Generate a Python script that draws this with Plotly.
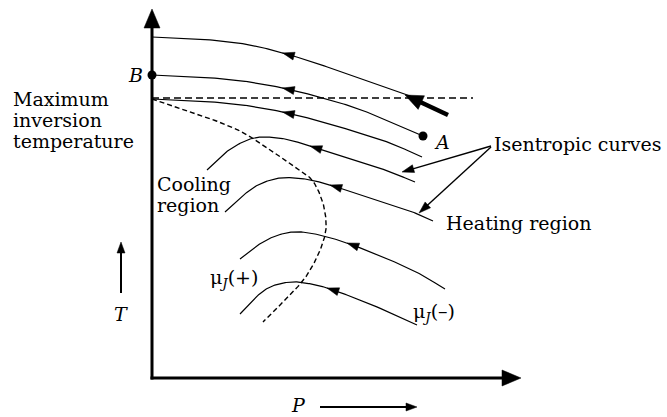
import numpy as np
import plotly.graph_objects as go

W, H = 667, 417

# ---- frame: P to the right, T upward (drawing units, y grows downward) ----
axis_x0, axis_y0 = 152, 378          # origin of the P-T frame
t_axis_tip = 9                       # top of T axis arrow
p_axis_tip = 521                     # right end of P axis arrow

# ---- isentropic curves (P, T) ----
curve_top_x = [152, 200, 250, 300, 350, 413]
curve_top_y = [37, 39, 45, 58, 75, 97]

curve_B_x = [152, 200, 250, 300, 350, 381, 423]
curve_B_y = [75, 77, 82, 92, 106, 118, 136]

curve_3_x = [152, 200, 250, 300, 350, 390, 422]
curve_3_y = [99, 101, 106, 116, 130, 143, 157]

curve_4_x = [207, 225, 245, 262, 285, 310, 350, 385, 415]
curve_4_y = [170, 153, 141, 137, 139, 146, 159, 170, 182]

curve_5_x = [225, 240, 258, 280, 305, 330, 370, 405, 433]
curve_5_y = [212, 198, 185, 178, 179, 185, 198, 209, 221]

curve_6_x = [240, 255, 273, 293, 315, 347, 390, 420, 445]
curve_6_y = [259, 247, 237, 232, 234, 243, 260, 274, 289]

curve_7_x = [240, 255, 270, 290, 305, 327, 370, 417]
curve_7_y = [314, 298, 287, 282, 283, 288, 304, 325]

curves = [
    (curve_top_x, curve_top_y, 283),
    (curve_B_x, curve_B_y, 283),
    (curve_3_x, curve_3_y, 283),
    (curve_4_x, curve_4_y, 310),
    (curve_5_x, curve_5_y, 330),
    (curve_6_x, curve_6_y, 347),
    (curve_7_x, curve_7_y, 327),
]

# ---- inversion curve (dashed) ----
inversion_x = [152, 200, 240, 270, 295, 312, 322, 326, 325, 318, 305, 285, 263]
inversion_y = [99, 115, 131, 150, 167, 180, 200, 220, 235, 255, 278, 300, 322]

# ---- maximum inversion temperature line ----
max_inv_y = 98
max_inv_x_end = 473

# ---- state points ----
point_A = (423, 136)
point_B = (152, 75)


def smooth(xs, ys, n=20):
    """Catmull-Rom interpolation through the given points."""
    p = np.column_stack([xs, ys]).astype(float)
    p = np.vstack([2 * p[0] - p[1], p, 2 * p[-1] - p[-2]])
    out = []
    for i in range(1, len(p) - 2):
        p0, p1, p2, p3 = p[i - 1], p[i], p[i + 1], p[i + 2]
        for t in np.linspace(0, 1, n, endpoint=False):
            t2, t3 = t * t, t * t * t
            out.append(0.5 * ((2 * p1) + (-p0 + p2) * t
                              + (2 * p0 - 5 * p1 + 4 * p2 - p3) * t2
                              + (-p0 + 3 * p1 - 3 * p2 + p3) * t3))
    out.append(p[-2])
    out = np.array(out)
    return out[:, 0], out[:, 1]


def head(tip, direction, length, half):
    d = np.asarray(direction, float)
    d = d / np.hypot(*d)
    nrm = np.array([-d[1], d[0]])
    tip = np.asarray(tip, float)
    base = tip - length * d
    pts = [tip, base + half * nrm, base - half * nrm, tip]
    return [q[0] for q in pts], [q[1] for q in pts]


fig = go.Figure()


def add_line(xs, ys, width=1.2, dash=None):
    fig.add_trace(go.Scatter(x=xs, y=ys, mode="lines",
                             line=dict(color="black", width=width, dash=dash),
                             hoverinfo="skip", showlegend=False))


def add_head(tip, direction, length, half):
    hx, hy = head(tip, direction, length, half)
    fig.add_trace(go.Scatter(x=hx, y=hy, mode="lines", fill="toself",
                             fillcolor="black", line=dict(color="black", width=0.5),
                             hoverinfo="skip", showlegend=False))


def add_arrow(start, end, width, length, half):
    d = np.subtract(end, start).astype(float)
    u = d / np.hypot(*d)
    stop = np.asarray(end, float) - u * length * 0.8
    add_line([start[0], stop[0]], [start[1], stop[1]], width=width)
    add_head(end, d, length, half)


# isentropic curves with leftward flow arrows
for xs, ys, ax in curves:
    sx, sy = smooth(xs, ys)
    add_line(sx, sy, width=1.2)
    i = int(np.argmin(np.abs(sx - ax)))
    tip = (sx[i], sy[i])
    direction = (sx[i - 1] - sx[i + 1], sy[i - 1] - sy[i + 1])
    add_head(tip, direction, 12, 4)

# inversion curve and maximum inversion temperature
ix, iy = smooth(inversion_x, inversion_y)
add_line(ix, iy, width=1.4, dash="5px,3px")
add_line([axis_x0, max_inv_x_end], [max_inv_y, max_inv_y], width=1.4, dash="7px,4px")

# axes
add_line([axis_x0, axis_x0], [axis_y0 + 1.5, t_axis_tip + 16], width=3)
add_head((axis_x0, t_axis_tip), (0, -1), 19, 8)
add_line([axis_x0 - 1.5, p_axis_tip - 16], [axis_y0, axis_y0], width=3)
add_head((p_axis_tip, axis_y0), (1, 0), 19, 8)

# direction of increasing T and P
add_arrow((121, 293), (121, 242), 2, 11, 4)
add_arrow((320, 407), (417, 407), 2, 11, 4)

# thick throttling arrow
add_arrow((448, 115), (405, 95), 4.5, 18, 7.5)

# pointers to isentropic curves
add_arrow((491, 146), (402, 172), 1.4, 12, 4)
add_arrow((491, 147), (419, 213), 1.4, 12, 4)

# state points
fig.add_trace(go.Scatter(x=[point_A[0], point_B[0]], y=[point_A[1], point_B[1]],
                         mode="markers", marker=dict(color="black", size=9),
                         hoverinfo="skip", showlegend=False))

FONT = "DejaVu Serif"
labels = [
    ("Maximum", 11, 99, 19, "left"),
    ("inversion", 11, 120, 19, "left"),
    ("temperature", 11, 141, 19, "left"),
    ("<i>B</i>", 145, 75, 19, "right"),
    ("<i>A</i>", 432, 142, 19, "left"),
    ("Isentropic curves", 492, 144, 19, "left"),
    ("Heating region", 444, 223, 19, "left"),
    ("Cooling", 155, 184, 19, "left"),
    ("region", 155, 205, 19, "left"),
    ("μ<sub><i>J</i></sub>(+)", 208, 278, 19, "left"),
    ("μ<sub><i>J</i></sub>(–)", 411, 312, 19, "left"),
    ("<i>T</i>", 121, 314, 19, "center"),
    ("<i>P</i>", 298, 405, 19, "center"),
]
for text, x, y, size, anchor in labels:
    fig.add_annotation(x=x, y=y, xref="x", yref="y", text=text, showarrow=False,
                       xanchor=anchor, yanchor="middle",
                       font=dict(family=FONT, size=size, color="black"))

fig.update_xaxes(range=[0, W], visible=False, fixedrange=True)
fig.update_yaxes(range=[H, 0], visible=False, fixedrange=True)
fig.update_layout(width=W, height=H, margin=dict(l=0, r=0, t=0, b=0),
                  plot_bgcolor="white", paper_bgcolor="white", showlegend=False)

fig.write_html("out.html", config={"displayModeBar": False})
